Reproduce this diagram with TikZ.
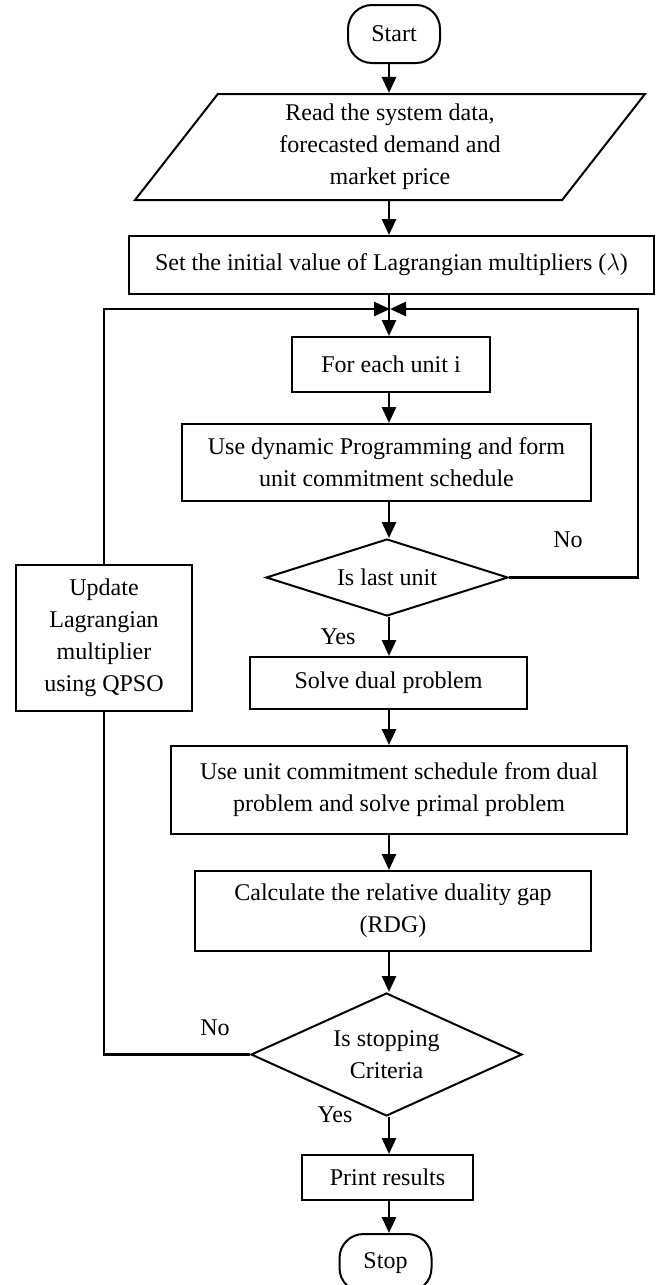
\documentclass[tikz,border=0pt]{standalone}
\usepackage{fontspec}
\setmainfont{Liberation Serif}
\usetikzlibrary{arrows.meta,positioning,shapes.geometric}

\begin{document}
\begin{tikzpicture}[x=0.5pt,y=-0.5pt,
  box/.style={draw,line width=1pt,align=center,inner sep=0pt,font=\fontsize{12}{16}\selectfont},
  term/.style={box,rounded corners=12pt,minimum width=46pt,minimum height=29pt},
  io/.style={box,trapezium,trapezium left angle=46,trapezium right angle=134,trapezium stretches body,minimum width=255pt,minimum height=53pt},
  dec/.style={box,diamond},
  arr/.style={-{Triangle[length=8pt,width=7pt]},line width=1.4pt},
  line/.style={line width=1.3pt},
  lab/.style={font=\fontsize{12}{16}\selectfont,inner sep=0pt}]
  \useasboundingbox (0,0) rectangle (660,1285);
  \node[term] (start) at (394,34) {Start};
  \node[io] (read) at (390,147) {Read the system data,\\forecasted demand and\\market price};
  \node[box,minimum width=262.5pt,minimum height=29pt] (init) at (391.5,265) {Set the initial value of Lagrangian multipliers ($\lambda$)};
  \node[box,minimum width=99pt,minimum height=27.5pt] (each) at (391,364.5) {For each unit i};
  \node[box,minimum width=204.5pt,minimum height=38.5pt] (dp) at (386.5,462.5) {Use dynamic Programming and form\\unit commitment schedule};
  \node[dec,aspect=3.14,minimum width=121pt,minimum height=38.5pt] (last) at (387,577.5) {Is last unit};
  \node[box,minimum width=88pt,minimum height=73pt] (upd) at (104,638) {Update\\Lagrangian\\multiplier\\using QPSO};
  \node[box,minimum width=138.5pt,minimum height=26pt] (dual) at (388.5,683) {Solve dual problem};
  \node[box,minimum width=228pt,minimum height=44pt] (primal) at (399,790) {Use unit commitment schedule from dual\\problem and solve primal problem};
  \node[box,minimum width=198pt,minimum height=40pt] (rdg) at (393,911) {Calculate the relative duality gap\\(RDG)};
  \node[dec,aspect=2.2,minimum width=135.5pt,minimum height=61.5pt] (crit) at (386.5,1054.5) {Is stopping\\Criteria};
  \node[box,minimum width=85.5pt,minimum height=22.5pt] (print) at (387.5,1177.5) {Print results};
  \node[term] (stop) at (385.5,1263) {Stop};
  \node[lab] (no1) at (568,540) {No};
  \node[lab] (yes1) at (338,637) {Yes};
  \node[lab] (no2) at (215,1028) {No};
  \node[lab] (yes2) at (335,1115) {Yes};
  \coordinate (ax) at (389,0);
  \coordinate (jn) at (390,309);
  \coordinate (rt) at (638,309);
  \draw[arr] (start.south -| ax) -- (read.north -| ax);
  \draw[arr] (read.south -| ax) -- (init.north -| ax);
  \draw[arr] (init.south -| ax) -- (each.north -| ax);
  \draw[arr] (each.south -| ax) -- (dp.north -| ax);
  \draw[arr] (dp.south -| ax) -- (last.north -| ax);
  \draw[arr] (last.south -| ax) -- (dual.north -| ax);
  \draw[arr] (last.east) -| (rt) -- (jn);
  \draw[arr] (upd.north) |- (jn);
  \draw[arr] (dual.south -| ax) -- (primal.north -| ax);
  \draw[arr] (primal.south -| ax) -- (rdg.north -| ax);
  \draw[arr] (rdg.south -| ax) -- (crit.north -| ax);
  \draw[line] (crit.west) -| (upd.south);
  \draw[arr] (crit.south -| ax) -- (print.north -| ax);
  \draw[arr] (print.south -| ax) -- (stop.north -| ax);
\end{tikzpicture}
\end{document}
